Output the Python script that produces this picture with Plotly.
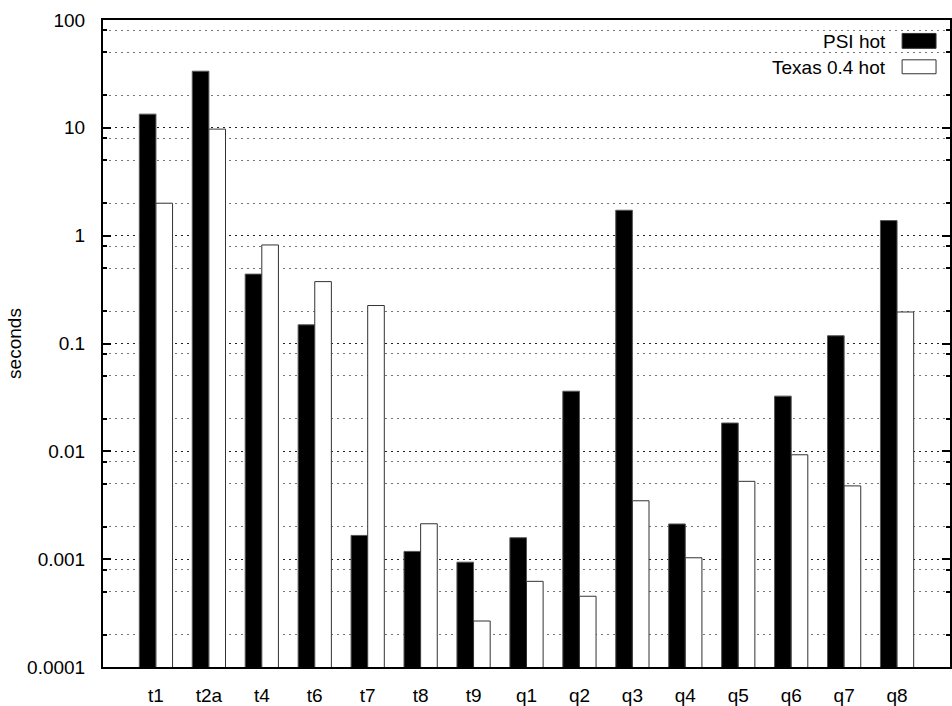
import plotly.graph_objects as go

# Benchmark queries and timings (seconds, log scale)
queries = ["t1", "t2a", "t4", "t6", "t7", "t8", "t9",
           "q1", "q2", "q3", "q4", "q5", "q6", "q7", "q8"]
psi_hot = [13.4, 33.5, 0.44, 0.149, 0.00166, 0.00118, 0.000938,
           0.00158, 0.0361, 1.72, 0.00212, 0.0183, 0.0325, 0.118, 1.38]
texas_hot = [2.0, 9.73, 0.82, 0.375, 0.225, 0.00213, 0.000267,
             0.000623, 0.000453, 0.00348, 0.00103, 0.00527, 0.00929, 0.00478, 0.196]

series_names = ["PSI hot", "Texas 0.4 hot"]
major_ticks = [1e-4, 1e-3, 1e-2, 1e-1, 1, 10, 100]
major_labels = ["0.0001", "0.001", "0.01", "0.1", "1", "10", "100"]
minor_ticks = [m * d for d in [1e-4, 1e-3, 1e-2, 1e-1, 1, 10] for m in (2, 5, 8)]

W, H = 952, 706
ML, MR, MT, MB = 103, 0, 20, 36
FONT = "Liberation Sans, Arial, sans-serif"


def px_x(px):
    return (px - ML) / (W - ML - MR)


def px_y(py):
    return (H - MB - py) / (H - MT - MB)


fig = go.Figure()
fig.add_trace(go.Bar(
    x=queries, y=psi_hot, name=series_names[0],
    marker=dict(color="black", line=dict(color="#555555", width=1)),
))
fig.add_trace(go.Bar(
    x=queries, y=texas_hot, name=series_names[1],
    marker=dict(color="white", line=dict(color="#333333", width=1)),
))

grid_dash = "2px,4px"

fig.update_layout(
    width=W, height=H,
    margin=dict(l=ML, r=MR, t=MT, b=MB, pad=0),
    paper_bgcolor="white", plot_bgcolor="white",
    barmode="group", bargap=0.372, bargroupgap=0,
    showlegend=False,
    font=dict(family=FONT, size=19, color="black"),
    xaxis=dict(
        type="category", range=[-1, 15],
        showline=True, linecolor="black", linewidth=2, mirror=True,
        ticks="", showgrid=False, ticklabelstandoff=10,
        tickfont=dict(size=19),
    ),
    yaxis=dict(
        type="log", range=[-4, 2],
        tickmode="array", tickvals=major_ticks, ticktext=major_labels,
        ticks="inside", ticklen=8, tickwidth=2, tickcolor="black",
        showline=True, linecolor="black", linewidth=2, mirror="ticks",
        showgrid=True, gridcolor="#222222", gridwidth=1, griddash=grid_dash,
        minor=dict(tickmode="array", tickvals=minor_ticks, ticks="inside",
                   ticklen=4, tickwidth=2, tickcolor="black",
                   showgrid=True, gridcolor="#777777", gridwidth=1,
                   griddash=grid_dash),
        ticklabelstandoff=12,
        title=dict(text="seconds", standoff=0, font=dict(size=19)),
        zeroline=False,
    ),
)

# Key in the upper right corner: label text to the left of each swatch
legend_rows = [
    (series_names[0], "black", 33.5, 48.5, 42),
    (series_names[1], "white", 60, 74, 68),
]
for label, fill, y0, y1, yc in legend_rows:
    fig.add_shape(type="rect", xref="paper", yref="paper",
                  x0=px_x(904), x1=px_x(938), y0=px_y(y1), y1=px_y(y0),
                  fillcolor=fill, line=dict(color="#333333", width=1))
    fig.add_annotation(x=px_x(890), y=px_y(yc), xref="paper", yref="paper",
                       text=label, showarrow=False, xanchor="right",
                       yanchor="middle", font=dict(size=19))

fig.write_html("out.html")
